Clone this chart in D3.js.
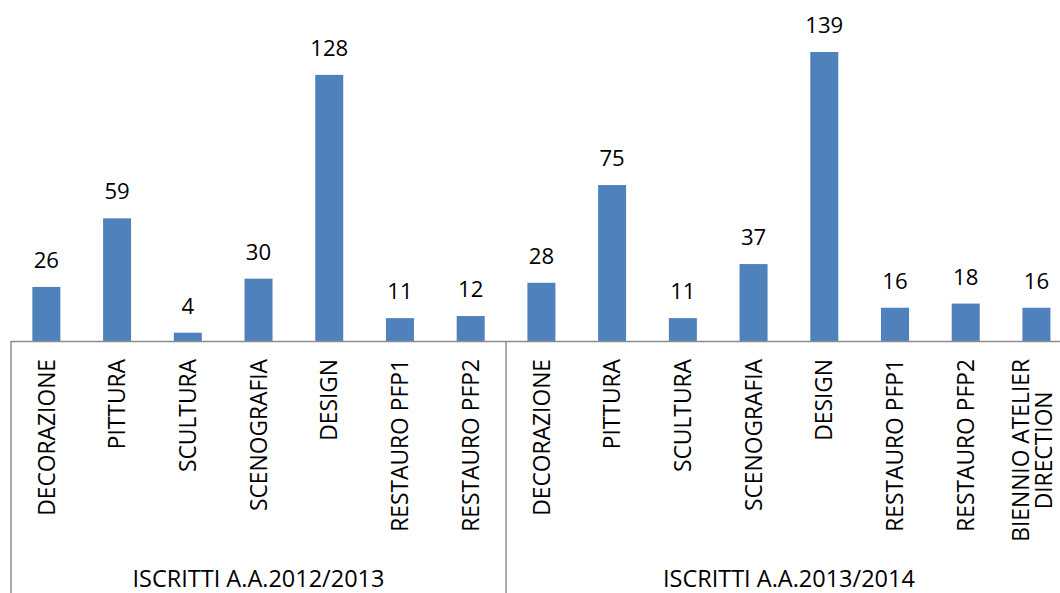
<!DOCTYPE html>
<html><head><meta charset="utf-8">
<script src="https://cdn.jsdelivr.net/npm/d3@7"></script>
<style>html,body{margin:0;padding:0;background:#fff;overflow:hidden}svg{display:block}text{font-family:"Open Sans",sans-serif;fill:#000}</style>
</head><body>
<svg id="c" width="1060" height="593"></svg>
<script>
const groups = ["ISCRITTI A.A.2012/2013", "ISCRITTI A.A.2013/2014"];
const categories2012 = ["DECORAZIONE","PITTURA","SCULTURA","SCENOGRAFIA","DESIGN","RESTAURO PFP1","RESTAURO PFP2"];
const values2012 = [26, 59, 4, 30, 128, 11, 12];
const categories2013 = ["DECORAZIONE","PITTURA","SCULTURA","SCENOGRAFIA","DESIGN","RESTAURO PFP1","RESTAURO PFP2","BIENNIO ATELIER DIRECTION"];
const values2013 = [28, 75, 11, 37, 139, 16, 18, 16];

const data = [];
categories2012.forEach((c,i)=>data.push({g:0,cat:c,v:values2012[i]}));
categories2013.forEach((c,i)=>data.push({g:1,cat:c,v:values2013[i]}));
data.forEach((d,i)=>d.i=i);

const svg = d3.select("#c");
const left = 11, step = 70.72, base = 341;
const x = d3.scaleBand().domain(data.map(d=>d.i)).range([left, left + step*data.length]).paddingInner(0.604).paddingOuter(0.302);
const y = d3.scaleLinear().domain([0, 160]).range([base, base - 160*(289/139)]);

function fit(str, target){
  const t = svg.append("text").attr("font-size",100).text(str);
  const w = t.node().getComputedTextLength();
  t.remove();
  return 100*target/w;
}
const catSize = (fit("DECORAZIONE",155) + fit("RESTAURO PFP1",174) + fit("SCENOGRAFIA",153))/3;
const valSize = fit("139",38);
const grpSize = fit("ISCRITTI A.A.2012/2013",252);

svg.selectAll("rect.bar").data(data).join("rect").attr("class","bar")
  .attr("x", d=>x(d.i)).attr("width", x.bandwidth())
  .attr("y", d=>y(d.v)).attr("height", d=>y(0)-y(d.v))
  .attr("fill","#4F81BD");

svg.selectAll("text.val").data(data).join("text").attr("class","val")
  .attr("x", d=>x(d.i)+x.bandwidth()/2).attr("y", d=>y(d.v)-19)
  .attr("text-anchor","middle").attr("font-size",valSize).text(d=>d.v);

const axisColor = "#8c8c8c";
svg.append("line").attr("x1",left).attr("x2",1060).attr("y1",base+0.5).attr("y2",base+0.5).attr("stroke",axisColor).attr("stroke-width",1.5);
const groupStarts = [0, categories2012.length, data.length];
groupStarts.forEach(k=>{
  const gx = left + step*k;
  svg.append("line").attr("x1",gx).attr("x2",gx).attr("y1",base).attr("y2",593).attr("stroke",axisColor).attr("stroke-width",1.5);
});

data.forEach(d=>{
  const cx = x(d.i)+x.bandwidth()/2;
  let lines = [d.cat];
  if (d.cat === "BIENNIO ATELIER DIRECTION") lines = ["BIENNIO ATELIER","DIRECTION"];
  const t = svg.append("text").attr("font-size",catSize)
    .attr("transform",`translate(${cx},359) rotate(-90)`);
  if (lines.length === 1) {
    t.attr("text-anchor","end").attr("dy","0.36em").text(lines[0]);
  } else {
    const lh = 23;
    t.attr("text-anchor","middle");
    const spans = t.selectAll("tspan").data(lines).join("tspan")
      .attr("y", (l,j)=> (j - (lines.length-1)/2)*lh - 4)
      .attr("dy","0.36em").text(l=>l);
    const w0 = spans.nodes()[0].getComputedTextLength();
    spans.attr("x", -w0/2);
  }
});

groups.forEach((g,k)=>{
  const x0 = left + step*groupStarts[k], x1 = left + step*groupStarts[k+1];
  svg.append("text").attr("x",(x0+x1)/2).attr("y",587).attr("text-anchor","middle").attr("font-size",grpSize).text(g);
});
</script>
</body></html>
